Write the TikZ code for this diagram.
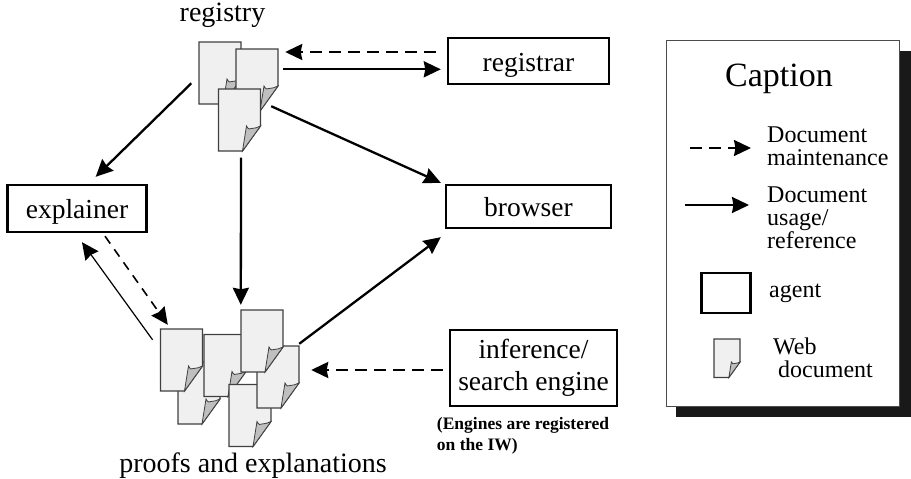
\documentclass[tikz,border=0pt]{standalone}
\usepackage{fontspec}
\setmainfont{Liberation Serif}
\usetikzlibrary{arrows.meta}

\newcommand{\fsize}[1]{\fontsize{#1}{#1}\selectfont}

\begin{document}
\begin{tikzpicture}[x=1pt,y=-1pt,
            agent/.style={draw, line width=2.4pt, fill=white, inner sep=0pt, align=center, font=\fsize{27.5}},
            agentline/.style={agent, text height=20pt, text depth=0pt},
            label/.style={inner sep=0pt, align=left, font=\fsize{24}},
            title/.style={inner sep=0pt, font=\fsize{28}},
            usage/.style={line width=2.3pt, -{Stealth[length=17pt,width=16pt,inset=1.5pt]}},
            maint/.style={usage, dash pattern=on 12pt off 7pt},
            thinusage/.style={line width=1.2pt, -{Stealth[length=17pt,width=16pt,inset=1.5pt]}},
            thinmaint/.style={line width=1.6pt, -{Stealth[length=17pt,width=16pt,inset=1.5pt]}, dash pattern=on 9pt off 7pt},
            webdoc/.pic={
                \draw[draw=black!75, line width=1.2pt, fill=black!6] (0,0) -- (42,0) -- (42,37) -- (24,62) -- (0,62) -- cycle;
                \draw[draw=black!75, line width=.8pt, fill=black!25] (24,62) -- (28,37) .. controls (30,41) and (31,40) .. (33,39.5) .. controls (36,39) and (39,39) .. (42,37) -- cycle;
                \node[transform shape, minimum width=42pt, minimum height=62pt, inner sep=0pt] (-box) at (21,31) {};
            }]
        \useasboundingbox (0,0) rectangle (911,479);

        % registry
        \pic (reg1) at (199,42) {webdoc};
        \pic (reg2) at (236,49) {webdoc};
        \pic (reg3) at (218.5,89) {webdoc};
        \node[title] (registry) at (222.5,15) {registry};

        % proofs and explanations
        \pic (doc2) at (178,362) {webdoc};
        \pic (doc1) at (160.5,329) {webdoc};
        \pic (doc3) at (204,334.5) {webdoc};
        \pic (doc6) at (229,384.5) {webdoc};
        \pic (doc5) at (257,346) {webdoc};
        \pic (doc4) at (241,310) {webdoc};
        \node[title] (proofs) at (253,466) {proofs and explanations};

        % agents
        \node[agentline, minimum width=161pt, minimum height=46pt] (registrar) at (528.5,61) {registrar};
        \node[agentline, minimum width=139pt, minimum height=47pt] (explainer) at (77,208.5) {explainer};
        \node[agentline, minimum width=165pt, minimum height=43pt] (browser) at (528.5,206.5) {browser};
        \node[agent, minimum width=167pt, minimum height=76pt] (engine) at (533.5,368) {inference/\\[5pt]search engine};
        \node[inner sep=0pt, align=left, font=\bfseries\fsize{17.5}] (note) at (523,436) {(Engines are registered\\[3pt]on the IW)};

        % links
        \draw[maint] ([shift={(-11,-9)}]registrar.west) -- ([shift={(7,-28)}]reg2-box.east);
        \draw[usage] ([shift={(5,-10.7)}]reg2-box.east) -- ([shift={(-6,8.3)}]registrar.west);
        \draw[usage] ([shift={(-7.5,10.3)}]reg1-box.west) -- ([shift={(18.7,-7)}]explainer.north);
        \draw[usage] ([shift={(-7,-5)}]reg2-box.south east) -- ([shift={(-4,-1)}]browser.north west);
        \draw[usage] ([shift={(1.5,6.5)}]reg3-box.south) -- ([shift={(0,-5)}]doc4-box.north west);
        \draw[usage] ([shift={(0,-2)}]doc5-box.north east) -- ([shift={(-4,8)}]browser.south west);
        \draw[maint] ([shift={(-6,2)}]engine.west) -- ([shift={(12,-7)}]doc5-box.east);
        \draw[thinmaint] ([shift={(28,3)}]explainer.south) -- ([shift={(7.5,-4)}]doc1-box.north west);
        \draw[thinusage] ([shift={(-7.7,11)}]doc1-box.north west) -- ([shift={(5,9)}]explainer.south);

        % caption panel
        \fill[black!90] (676,51) rectangle (911,417);
        \node[draw=black!70, line width=1pt, fill=white, minimum width=233pt, minimum height=366pt, inner sep=0pt] (panel) at (782.5,223.5) {};
        \node[inner sep=0pt, font=\fsize{34}] (caption) at (779,79) {Caption};

        \coordinate (m1) at (690,148);
        \coordinate (m2) at (751,148);
        \draw[maint] (m1) -- (m2);
        \node[label, anchor=west] (lmaint) at (767,146) {Document\\[-1pt]maintenance};

        \coordinate (u1) at (685,205);
        \coordinate (u2) at (749,205);
        \draw[usage] (u1) -- (u2);
        \node[label, anchor=west] (lusage) at (767,218) {Document\\[-1pt]usage/\\[-1pt]reference};

        \node[agent, minimum width=49pt, minimum height=40pt] (lagent) at (726,293) {};
        \node[label, anchor=west] (lagenttext) at (769,293) {agent};

        \pic[scale=.62] (ldoc) at (714,339) {webdoc};
        \node[label, anchor=west] (ldoctext) at (773,358) {Web\\[-1pt]\hspace*{5pt}document};
    \end{tikzpicture}
\end{document}
